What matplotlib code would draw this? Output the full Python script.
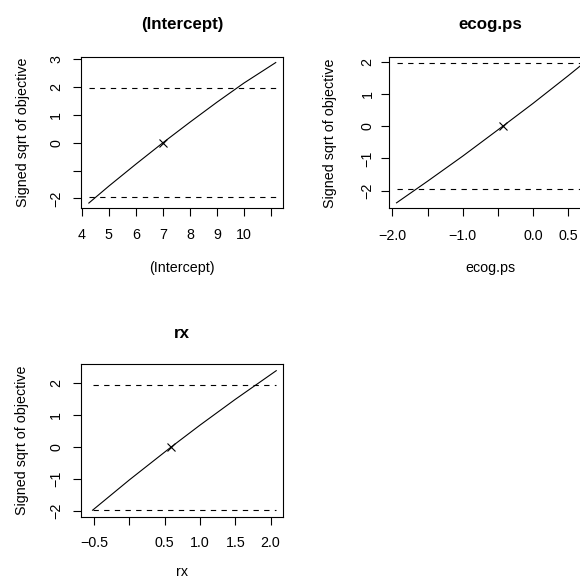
import matplotlib
matplotlib.use("Agg")
import matplotlib.pyplot as plt

plt.rcParams['font.family'] = ['Liberation Sans', 'DejaVu Sans']

# profile curves
icpt_x = [4.26, 5.0, 6.0, 7.0, 8.0, 9.0, 10.0, 11.18]
icpt_y = [-2.17, -1.56, -0.77, 0.0, 0.74, 1.46, 2.15, 2.89]
icpt_est = 7.0

ecog_x = [-1.94, -1.5, -1.0, -0.43, 0.0, 0.5, 0.72]
ecog_y = [-2.38, -1.71, -0.93, 0.0, 0.71, 1.57, 1.96]
ecog_est = -0.43

rx_x = [-0.52, 0.0, 0.59, 1.0, 1.5, 2.08]
rx_y = [-1.98, -1.03, 0.0, 0.69, 1.50, 2.40]
rx_est = 0.59

crit = 1.96

W, H = 580, 581

# box in pixels: left, top, right, bottom; label offsets in pixels
panels = [
    dict(name='(Intercept)', x=icpt_x, y=icpt_y, est=icpt_est,
         xticks=[4, 5, 6, 7, 8, 9, 10, 11],
         xlabels=['4', '5', '6', '7', '8', '9', '10', ''],
         yticks=[-2, -1, 0, 1, 2, 3],
         ylabels=['\u22122', '', '0', '1', '2', '3'],
         xlim=(3.97, 11.46), ylim=(-2.33, 3.09),
         box=(81, 57, 283.3, 207.5), ypad=7.3, xpad=9.5, xlab=60, ylab=58, tit=33),
    dict(name='ecog.ps', x=ecog_x, y=ecog_y, est=ecog_est,
         xticks=[-2.0, -1.5, -1.0, -0.5, 0.0, 0.5],
         xlabels=['\u22122.0', '', '\u22121.0', '', '0.0', '0.5'],
         yticks=[-2, -1, 0, 1, 2],
         ylabels=['\u22122', '\u22121', '0', '1', '2'],
         xlim=(-2.047, 0.827), ylim=(-2.55, 2.14),
         box=(389, 57.3, 591.3, 208.3), ypad=5.0, xpad=9.2, xlab=60, ylab=59, tit=33),
    dict(name='rx', x=rx_x, y=rx_y, est=rx_est,
         xticks=[-0.5, 0.0, 0.5, 1.0, 1.5, 2.0],
         xlabels=['\u22120.5', '', '0.5', '1.0', '1.5', '2.0'],
         yticks=[-2, -1, 0, 1, 2],
         ylabels=['\u22122', '\u22121', '0', '1', '2'],
         xlim=(-0.684, 2.18), ylim=(-2.2, 2.61),
         box=(81, 364, 283.3, 517.2), ypad=7.3, xpad=8.2, xlab=55, ylab=59, tit=30),
]

fig = plt.figure(figsize=(W / 100, H / 100), dpi=100)

for p in panels:
    l, t, r, b = p['box']
    wpx, hpx = r - l, b - t
    ax = fig.add_axes([l / W, 1 - b / H, wpx / W, hpx / H])
    ax.plot(p['x'], p['y'], color='black', lw=0.8)
    for c in (crit, -crit):
        ax.plot([p['x'][0], p['x'][-1]], [c, c], color='black', lw=0.8,
                linestyle=(0, (4.8, 4.8)))
    ax.plot([p['est']], [0], marker='x', color='black', ms=5.5, mew=0.8,
            linestyle='none')
    ax.set_xlim(p['xlim'])
    ax.set_ylim(p['ylim'])
    ax.set_xticks(p['xticks'])
    ax.set_xticklabels(p['xlabels'])
    ax.set_yticks(p['yticks'])
    ax.set_yticklabels(p['ylabels'], rotation=90, va='center')
    ax.tick_params(direction='out', length=5.5, width=0.8, labelsize=10.3,
                   color='black')
    ax.tick_params(axis='x', pad=p['xpad'])
    ax.tick_params(axis='y', pad=p['ypad'])
    for s in ax.spines.values():
        s.set_linewidth(0.8)
    ax.set_title(p['name'], fontsize=12.2, fontweight='bold', pad=0,
                 y=1 + p['tit'] / hpx, va='center')
    ax.set_xlabel(p['name'], fontsize=10.3, va='center')
    ax.xaxis.set_label_coords(0.5, -p['xlab'] / hpx)
    ax.set_ylabel('Signed sqrt of objective', fontsize=10.3, va='center')
    ax.yaxis.set_label_coords(-p['ylab'] / wpx, 0.5)

fig.savefig('out.png', dpi=100)
